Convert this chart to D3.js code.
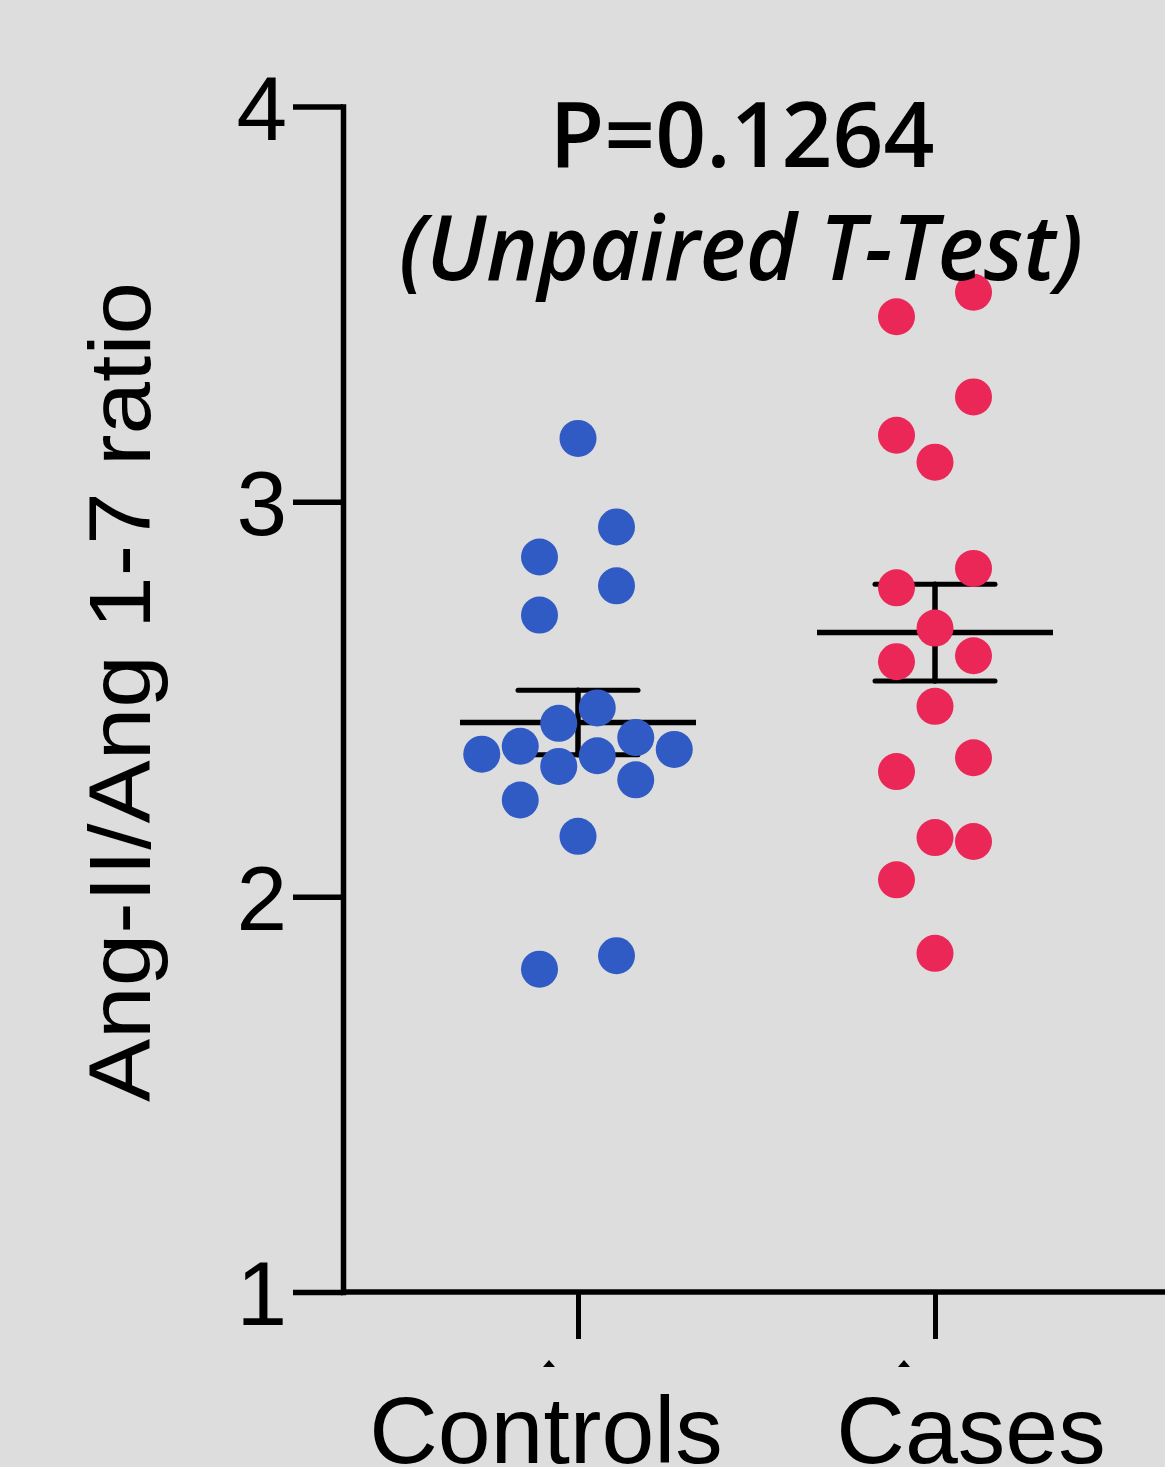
<html>
<head>
<script src="https://d3js.org/d3.v7.min.js"></script>
<style>
  body { margin: 0; background: #dddddd; }
  text { font-family: "Liberation Sans", Arial, sans-serif; fill: #000; }
</style>
</head>
<body>
<svg id="chart" width="1165" height="1467"></svg>
<script>
// values
var groups = ["Controls", "Cases"];
var controls = [3.160, 2.936, 2.860, 2.787, 2.713, 2.478, 2.439, 2.403, 2.381,
                2.373, 2.361, 2.357, 2.330, 2.296, 2.245, 2.153, 1.851, 1.817];
var cases = [3.530, 3.468, 3.265, 3.168, 3.100, 2.831, 2.782, 2.680, 2.610,
             2.595, 2.482, 2.352, 2.317, 2.150, 2.140, 2.043, 1.857];
var yTicks = [1, 2, 3, 4];
var pLabel = "P=0.1264";
var testLabel = "(Unpaired T-Test)";
var yTitle = "Ang-II/Ang 1-7 ratio";
var colors = ["#305ac4", "#ea2757"];

var svg = d3.select("#chart");
svg.append("rect").attr("width", 1165).attr("height", 1467).attr("fill", "#dddddd");

var y = d3.scaleLinear().domain([1, 4]).range([1292, 106.5]);
var x = d3.scalePoint().domain(groups).range([578, 935]);

var r = 18.5;

// row-based scatter layout: points close in value share a row,
// each row is spread symmetrically around the group centre
function swarm(vals) {
  var s = 38.5, H = 47, D = 2 * r;
  var pts = vals.slice().sort(function (a, b) { return b - a; })
    .map(function (v) { return { v: v, py: y(v) }; });
  var rows = [], cur = null;
  pts.forEach(function (p) {
    if (!cur || p.py - cur[0].py >= H) { cur = []; rows.push(cur); }
    cur.push(p);
  });
  var placed = [];
  rows.forEach(function (row) {
    var n = row.length, slots = [];
    if (n === 1) slots = [0];
    else if (n === 2) slots = [s, -s];
    else if (n % 2) { slots.push(0); for (var k = 1; k <= 4; k++) slots.push(k * s, -k * s); }
    else { for (var k = 0; k < 4; k++) slots.push((k + 0.5) * s, -(k + 0.5) * s); }
    var used = [];
    row.forEach(function (p) {
      var pick = null;
      for (var i = 0; i < slots.length; i++) {
        if (used.indexOf(i) >= 0) continue;
        var ok = placed.every(function (q) {
          var dx = q.dx - slots[i], dy = q.py - p.py;
          return dx * dx + dy * dy >= D * D;
        });
        if (ok) { pick = i; break; }
      }
      if (pick === null) pick = slots.findIndex(function (d, i) { return used.indexOf(i) < 0; });
      used.push(pick);
      p.dx = slots[pick];
      placed.push(p);
    });
  });
  return placed;
}

function stats(vals) {
  var m = d3.mean(vals);
  var sem = d3.deviation(vals) / Math.sqrt(vals.length);
  return { mean: m, lo: m - sem, hi: m + sem };
}

var series = [controls, cases];

// y axis
var yAxis = svg.append("g")
  .attr("transform", "translate(343,0)")
  .call(d3.axisLeft(y).tickValues(yTicks).tickFormat(d3.format("d"))
    .tickSize(50).tickSizeOuter(0).tickPadding(6));
yAxis.select(".domain").attr("stroke-width", 5.5).attr("stroke-linecap", "square");
yAxis.selectAll(".tick line").attr("stroke-width", 5.5);
yAxis.selectAll(".tick text").attr("font-size", 91)
  .attr("font-family", "Liberation Sans, Arial, sans-serif").attr("dy", "0.36em");

// x axis
svg.append("line")
  .attr("x1", 343).attr("x2", 1165)
  .attr("y1", y(1)).attr("y2", y(1))
  .attr("stroke", "#000").attr("stroke-width", 5.5);
var xAxis = svg.append("g")
  .attr("transform", "translate(0," + y(1) + ")")
  .call(d3.axisBottom(x).tickSize(47).tickFormat(""));
xAxis.select(".domain").remove();
xAxis.selectAll(".tick line").attr("stroke-width", 5);

var labelShift = [-32, 36];
var markShift = [-29, -31];
groups.forEach(function (g, i) {
  svg.append("text")
    .attr("x", x(g) + labelShift[i]).attr("y", 1463)
    .attr("text-anchor", "middle").attr("font-size", 95)
    .text(g);
  var tx = x(g) + markShift[i];
  svg.append("path")
    .attr("d", "M" + (tx - 6) + ",1367L" + tx + ",1360L" + (tx + 6) + ",1367Z")
    .attr("fill", "#000");
});

// mean and SEM bars
series.forEach(function (vals, i) {
  var s = stats(vals), cx = x(groups[i]);
  var gg = svg.append("g").attr("stroke", "#000").attr("stroke-linecap", "round");
  gg.append("line").attr("x1", cx - 118).attr("x2", cx + 118)
    .attr("y1", y(s.mean)).attr("y2", y(s.mean)).attr("stroke-width", 5.5).attr("stroke-linecap", "butt");
  gg.append("line").attr("x1", cx).attr("x2", cx)
    .attr("y1", y(s.hi)).attr("y2", y(s.lo)).attr("stroke-width", 5.5);
  [s.hi, s.lo].forEach(function (v) {
    gg.append("line").attr("x1", cx - 60).attr("x2", cx + 60)
      .attr("y1", y(v)).attr("y2", y(v)).attr("stroke-width", 5);
  });
});

// dots
series.forEach(function (vals, i) {
  svg.append("g").selectAll("circle")
    .data(swarm(vals))
    .enter().append("circle")
    .attr("cx", function (d) { return x(groups[i]) + d.dx; })
    .attr("cy", function (d) { return d.py; })
    .attr("r", r)
    .attr("fill", colors[i]);
});

// y title
svg.append("text")
  .attr("transform", "translate(150,692) rotate(-90)")
  .attr("text-anchor", "middle").attr("font-size", 88)
  .attr("textLength", 820).attr("lengthAdjust", "spacingAndGlyphs")
  .text(yTitle);

// annotation
svg.append("text")
  .attr("x", 742).attr("y", 167)
  .attr("text-anchor", "middle").attr("font-size", 91)
  .style("font-family", "'Open Sans', sans-serif").style("font-weight", 600)
  .attr("textLength", 385).attr("lengthAdjust", "spacingAndGlyphs")
  .text(pLabel);
svg.append("text")
  .attr("x", 741).attr("y", 280)
  .attr("text-anchor", "middle").attr("font-size", 91)
  .style("font-family", "'Open Sans', sans-serif").style("font-style", "italic")
  .style("font-weight", 600)
  .attr("textLength", 684).attr("lengthAdjust", "spacingAndGlyphs")
  .text(testLabel);
</script>
</body>
</html>
